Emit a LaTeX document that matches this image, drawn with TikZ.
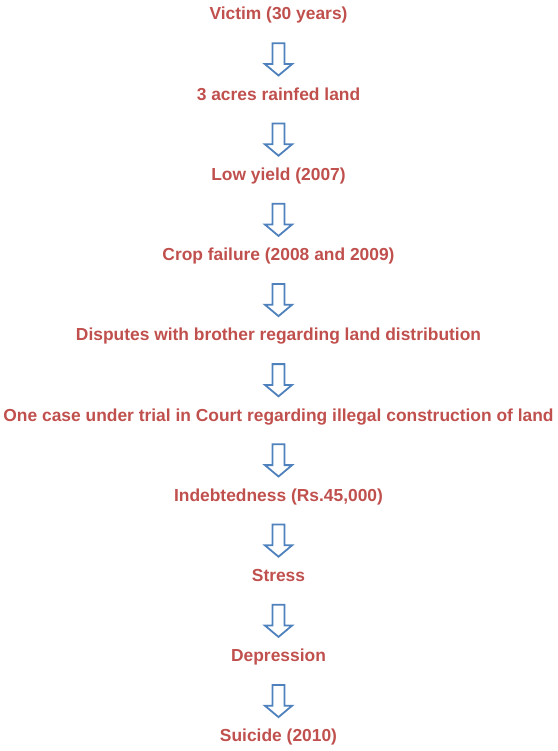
\documentclass[tikz,border=0pt]{standalone}
\usepackage{fontspec}
\setmainfont{Liberation Sans}
\usetikzlibrary{shapes.arrows,calc}

\definecolor{labelred}{HTML}{C0504D}
\definecolor{arrowblue}{HTML}{4F81BD}

\tikzset{
    steplabel/.style={text=labelred, font=\bfseries\fontsize{17.4}{20}\selectfont, inner sep=0pt, anchor=base},
    flowarrow/.style={single arrow, draw=arrowblue, fill=white, line width=1.8pt,
        shape border rotate=270, inner sep=5.1pt, minimum height=32.2pt,
        single arrow head extend=7.6pt, single arrow tip angle=100},
}

\begin{document}
\begin{tikzpicture}[x=1pt,y=1pt]

        \useasboundingbox (0,0) rectangle (557,-751);

        \node[steplabel] (victim) at (278.5,-20) {Victim (30 years)};
        \node[steplabel] (land) at (278.5,-100.2) {3 acres rainfed land};
        \node[steplabel] (yield) at (278.5,-180.4) {Low yield (2007)};
        \node[steplabel] (failure) at (278.5,-260.6) {Crop failure (2008 and 2009)};
        \node[steplabel] (dispute) at (278.5,-340.8) {Disputes with brother regarding land distribution};
        \node[steplabel] (court) at (278.5,-421) {One case under trial in Court regarding illegal construction of land};
        \node[steplabel] (debt) at (278.5,-501.2) {Indebtedness (Rs.45,000)};
        \node[steplabel] (stress) at (278.5,-581.4) {Stress};
        \node[steplabel] (depress) at (278.5,-661.6) {Depression};
        \node[steplabel] (suicide) at (278.5,-741.8) {Suicide (2010)};

        % arrows between the steps
        \node[flowarrow] (a1) at ($(victim.base)!0.46!(land.base)$) {};
        \node[flowarrow] (a2) at ($(land.base)!0.46!(yield.base)$) {};
        \node[flowarrow] (a3) at ($(yield.base)!0.46!(failure.base)$) {};
        \node[flowarrow] (a4) at ($(failure.base)!0.46!(dispute.base)$) {};
        \node[flowarrow] (a5) at ($(dispute.base)!0.46!(court.base)$) {};
        \node[flowarrow] (a6) at ($(court.base)!0.46!(debt.base)$) {};
        \node[flowarrow] (a7) at ($(debt.base)!0.46!(stress.base)$) {};
        \node[flowarrow] (a8) at ($(stress.base)!0.46!(depress.base)$) {};
        \node[flowarrow] (a9) at ($(depress.base)!0.46!(suicide.base)$) {};

    \end{tikzpicture}
\end{document}
